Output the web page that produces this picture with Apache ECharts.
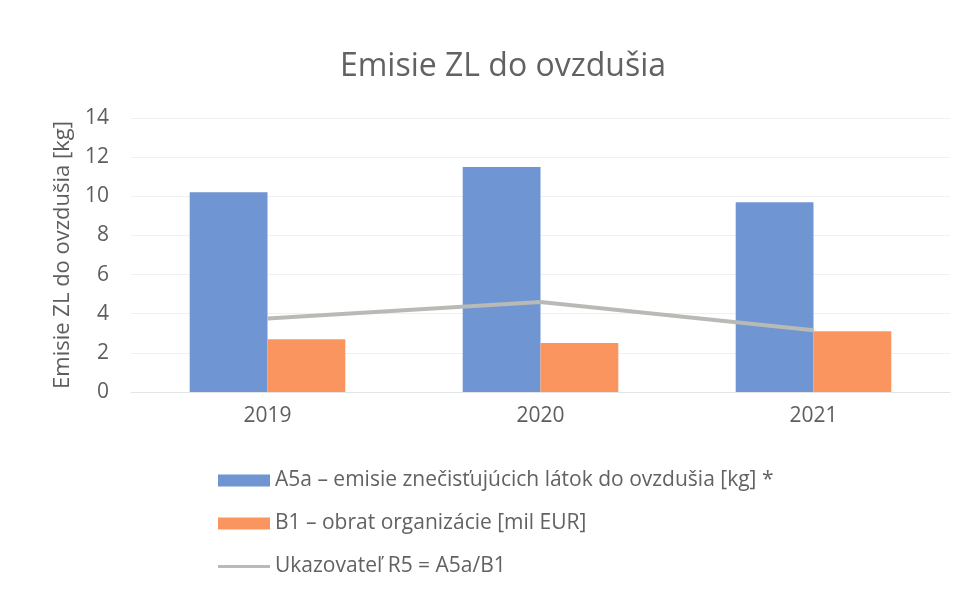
<!DOCTYPE html>
<html>
<head>
<meta charset="utf-8">
<script src="https://cdn.jsdelivr.net/npm/echarts@6/dist/echarts.min.js"></script>
<style>
  html, body { margin: 0; padding: 0; background: #fff; }
  #chart { width: 973px; height: 601px; }
</style>
</head>
<body>
<div id="chart"></div>
<script>
const years = ['2019', '2020', '2021']
const emisie = [10.2, 11.5, 9.7]       // A5a
const obrat = [2.7, 2.5, 3.1]          // B1
const ukazovatel = [3.75, 4.6, 3.15]   // R5
const yTicks = [0, 2, 4, 6, 8, 10, 12, 14]

const names = [
  'A5a – emisie znečisťujúcich látok do ovzdušia [kg] *',
  'B1 – obrat organizácie [mil EUR]',
  'Ukazovateľ R5 = A5a/B1'
]
const font = '"Open Sans", Lato, "Noto Sans", sans-serif'
// thin bar centred in the 52x12 legend box (the tiny end segments fix the box)
const lineIcon = 'path://M0,0L0.01,0M0,12L0.01,12M0,4.5H52V7.5H0Z'

const chart = echarts.init(document.getElementById('chart'))
chart.setOption({
  backgroundColor: '#fff',
  title: {
    text: 'Emisie ZL do ovzdušia',
    left: 498,
    textAlign: 'center',
    top: 46,
    textStyle: { fontFamily: font, fontSize: 32, fontWeight: 'normal', color: '#626262' }
  },
  legend: {
    orient: 'vertical',
    left: 213,
    top: 465,
    itemGap: 22,
    itemWidth: 52,
    itemHeight: 12,
    textStyle: { fontFamily: font, fontSize: 21, color: '#626262' },
    data: [
      { name: names[0], icon: 'rect' },
      { name: names[1], icon: 'rect' },
      { name: names[2], icon: lineIcon, itemStyle: { color: '#b9b9b5' } }
    ]
  },
  grid: { left: 131, right: 23, top: 118, bottom: 209 },
  xAxis: {
    type: 'category',
    data: years,
    axisLine: { show: true, lineStyle: { color: '#e4e4e4' } },
    axisTick: { show: false },
    axisLabel: { fontFamily: font, fontSize: 21, color: '#5e5e5e', margin: 14 }
  },
  yAxis: {
    type: 'value',
    min: yTicks[0],
    max: yTicks[yTicks.length - 1],
    interval: 2,
    name: 'Emisie ZL do ovzdušia [kg]',
    nameLocation: 'middle',
    nameGap: 57,
    nameTextStyle: { fontFamily: font, fontSize: 22, color: '#5e5e5e' },
    axisLine: { show: false },
    axisTick: { show: false },
    axisLabel: { fontFamily: font, fontSize: 21, color: '#5e5e5e', margin: 22 },
    splitLine: { lineStyle: { color: '#f0f0f0' } }
  },
  series: [
    {
      name: names[0],
      type: 'bar',
      data: emisie,
      barGap: 0,
      barCategoryGap: '43%',
      itemStyle: { color: '#6f96d2' }
    },
    {
      name: names[1],
      type: 'bar',
      data: obrat,
      itemStyle: { color: '#fb9560' }
    },
    {
      name: names[2],
      type: 'line',
      data: ukazovatel,
      symbol: 'none',
      lineStyle: { color: '#b9b9b5', width: 4 },
      itemStyle: { color: '#b9b9b5' }
    }
  ]
})
</script>
</body>
</html>
